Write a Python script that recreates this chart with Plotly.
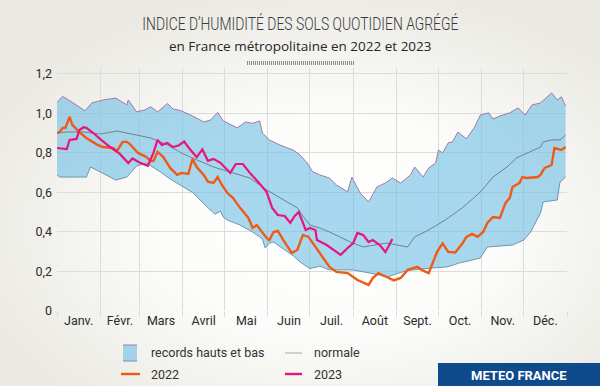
import base64
import plotly.graph_objects as go

# ---------------- data (day of year, 0 = 1 Jan) ----------------
upper_days = [0, 4, 9, 20, 25, 33, 42, 50, 51, 57, 63, 67, 72, 79, 83, 89, 97, 105, 110, 115, 119, 124, 129, 135, 140,
              145, 147, 152, 158, 165, 169, 174, 179, 183, 188, 195, 200, 208, 211, 217, 223, 229, 235, 240, 246, 253,
              256, 262, 266, 271, 273, 276, 280, 283, 287, 293, 299, 303, 309, 312, 317, 324, 330, 335, 340, 346, 351,
              354, 358, 361, 364]
upper_vals = [1.055, 1.086, 1.065, 1.013, 1.053, 1.068, 1.078, 1.043, 1.068, 1.008, 1.018, 1.034, 1.008, 1.050, 1.023,
              1.013, 0.987, 0.957, 0.967, 1.005, 0.962, 0.945, 0.927, 0.957, 0.950, 0.962, 0.901, 0.866, 0.845, 0.825,
              0.815, 0.790, 0.749, 0.705, 0.689, 0.673, 0.638, 0.603, 0.678, 0.597, 0.552, 0.628, 0.648, 0.673, 0.648,
              0.689, 0.729, 0.678, 0.724, 0.749, 0.815, 0.800, 0.851, 0.856, 0.906, 0.871, 0.932, 0.992, 1.003, 0.972,
              0.987, 1.003, 1.028, 0.992, 1.043, 1.053, 1.084, 1.104, 1.068, 1.084, 1.038]

lower_days = [0, 2, 21, 24, 31, 42, 50, 57, 64, 74, 81, 90, 97, 107, 113, 117, 119, 122, 131, 140, 147, 149, 152, 155,
              162, 169, 174, 181, 186, 188, 195, 212, 229, 236, 246, 251, 269, 279, 288, 303, 308, 326, 334, 339, 346,
              348, 358, 360, 364]
lower_vals = [0.689, 0.678, 0.678, 0.729, 0.704, 0.663, 0.678, 0.734, 0.749, 0.704, 0.668, 0.630, 0.600, 0.530, 0.490,
              0.505, 0.475, 0.460, 0.435, 0.400, 0.365, 0.319, 0.344, 0.349, 0.315, 0.280, 0.248, 0.215, 0.223, 0.228,
              0.208, 0.208, 0.185, 0.172, 0.195, 0.205, 0.218, 0.223, 0.243, 0.268, 0.324, 0.334, 0.359, 0.400, 0.496,
              0.552, 0.562, 0.653, 0.678]

normal_days = [0, 7, 19, 31, 43, 54, 67, 79, 89, 100, 112, 126, 138, 150, 162, 172, 176, 181, 188, 195, 210, 219, 236,
               246, 251, 256, 266, 278, 290, 299, 304, 312, 322, 329, 339, 346, 348, 354, 360, 364]
normal_vals = [0.901, 0.906, 0.906, 0.896, 0.911, 0.896, 0.876, 0.841, 0.800, 0.765, 0.729, 0.699, 0.673, 0.613, 0.562,
               0.522, 0.480, 0.435, 0.420, 0.400, 0.349, 0.324, 0.344, 0.329, 0.324, 0.375, 0.410, 0.461, 0.522, 0.577,
               0.610, 0.678, 0.729, 0.775, 0.805, 0.830, 0.856, 0.866, 0.866, 0.891]

y2022_days = [0, 2, 4, 6, 9, 11, 16, 21, 29, 33, 40, 43, 47, 50, 52, 54, 58, 64, 67, 69, 72, 76, 81, 86, 89, 94, 97,
              100, 105, 108, 112, 115, 118, 122, 126, 131, 137, 140, 143, 150, 152, 155, 158, 162, 168, 172, 176, 180,
              185, 186, 195, 200, 208, 215, 223, 226, 230, 236, 241, 246, 251, 258, 261, 266, 272, 276, 280, 285, 290,
              293, 297, 301, 305, 308, 312, 317, 321, 324, 326, 331, 333, 336, 344, 346, 349, 354, 356, 361, 364]
y2022_vals = [0.901, 0.906, 0.927, 0.927, 0.982, 0.942, 0.906, 0.876, 0.841, 0.830, 0.825, 0.810, 0.856, 0.856, 0.846,
              0.830, 0.800, 0.780, 0.759, 0.759, 0.805, 0.780, 0.724, 0.689, 0.699, 0.694, 0.770, 0.729, 0.689, 0.655,
              0.648, 0.678, 0.638, 0.597, 0.572, 0.522, 0.471, 0.420, 0.435, 0.370, 0.359, 0.400, 0.405, 0.359, 0.294,
              0.309, 0.385, 0.375, 0.324, 0.309, 0.223, 0.198, 0.192, 0.157, 0.132, 0.167, 0.192, 0.172, 0.155, 0.167,
              0.208, 0.223, 0.208, 0.192, 0.299, 0.342, 0.299, 0.296, 0.340, 0.375, 0.390, 0.375, 0.400, 0.446, 0.476,
              0.471, 0.547, 0.572, 0.628, 0.648, 0.678, 0.673, 0.678, 0.689, 0.724, 0.739, 0.825, 0.815, 0.830]

y2023_days = [0, 4, 7, 9, 14, 16, 19, 21, 26, 31, 38, 45, 51, 54, 59, 65, 69, 72, 75, 79, 83, 87, 91, 95, 100, 104,
              108, 112, 117, 124, 128, 133, 138, 144, 150, 154, 158, 163, 167, 170, 173, 178, 181, 185, 186, 193, 203,
              208, 212, 215, 219, 223, 226, 231, 235, 237, 240]
y2023_vals = [0.825, 0.820, 0.820, 0.866, 0.871, 0.916, 0.930, 0.927, 0.901, 0.870, 0.830, 0.795, 0.749, 0.772, 0.752,
              0.735, 0.800, 0.866, 0.841, 0.851, 0.830, 0.838, 0.858, 0.820, 0.778, 0.818, 0.760, 0.770, 0.750, 0.699,
              0.744, 0.744, 0.699, 0.653, 0.603, 0.522, 0.486, 0.481, 0.446, 0.480, 0.501, 0.410, 0.420, 0.410, 0.359,
              0.334, 0.284, 0.319, 0.344, 0.395, 0.385, 0.349, 0.359, 0.334, 0.299, 0.324, 0.365]

month_starts = [0, 31, 59, 90, 120, 151, 181, 212, 243, 273, 304, 334, 365]
month_labels = ["Janv.", "Févr.", "Mars", "Avril", "Mai", "Juin", "Juil.", "Août", "Sept.", "Oct.", "Nov.", "Déc."]
y_ticks = [0, 0.2, 0.4, 0.6, 0.8, 1.0, 1.2]
y_ticktext = ["0", "0,2", "0,4", "0,6", "0,8", "1,0", "1,2"]

TITLE = "INDICE D’HUMIDITÉ DES SOLS QUOTIDIEN AGRÉGÉ"

# ---------------- layout helpers (pixel -> paper) ----------------
W, H = 600, 386
L, R, T, B = 57, 33, 68, 75
PW, PH = W - L - R, H - T - B


def px(x):
    return (x - L) / PW


def py(y):
    return (H - B - y) / PH


BAND = "rgba(110,190,228,0.6)"
ORANGE = "#f05a14"
PINK = "#e8157d"
NORMAL = "#6f8388"
GRID = "#dcdcda"
FONT = "Roboto, 'Open Sans', sans-serif"

fig = go.Figure()
fig.add_trace(go.Scatter(x=lower_days, y=lower_vals, mode="lines",
                         line=dict(color="#6c98ad", width=1), hoverinfo="skip", showlegend=False))
fig.add_trace(go.Scatter(x=upper_days, y=upper_vals, mode="lines", fill="tonexty", fillcolor=BAND,
                         line=dict(color="#a07aa6", width=1), name="records hauts et bas", showlegend=False))
fig.add_trace(go.Scatter(x=normal_days, y=normal_vals, mode="lines",
                         line=dict(color=NORMAL, width=1), name="normale", showlegend=False))
fig.add_trace(go.Scatter(x=y2022_days, y=y2022_vals, mode="lines",
                         line=dict(color=ORANGE, width=2.4), name="2022", showlegend=False))
fig.add_trace(go.Scatter(x=y2023_days, y=y2023_vals, mode="lines",
                         line=dict(color=PINK, width=2.2), name="2023", showlegend=False))

mid_months = [(month_starts[i] + month_starts[i + 1]) / 2 for i in range(12)]

svg = ("<svg xmlns='http://www.w3.org/2000/svg' width='600' height='386'>"
       "<defs><radialGradient id='g' cx='55%' cy='58%' r='62%'>"
       "<stop offset='0' stop-color='#ffffff'/><stop offset='0.45' stop-color='#fcfcfa'/>"
       "<stop offset='1' stop-color='#eae9e3'/></radialGradient></defs>"
       "<rect width='600' height='386' fill='url(#g)'/></svg>")
svg_uri = "data:image/svg+xml;base64," + base64.b64encode(svg.encode()).decode()

shapes = [
    # decorative hatched bar under the subtitle
    dict(type="line", xref="paper", yref="paper", x0=px(247), x1=px(354), y0=py(63), y1=py(63),
         line=dict(color="#8a8a88", width=4, dash="1px,1px")),
    # legend symbols
    dict(type="rect", xref="paper", yref="paper", x0=px(123), x1=px(137), y0=py(361), y1=py(345),
         fillcolor=BAND, line=dict(width=0)),
    dict(type="line", xref="paper", yref="paper", x0=px(123), x1=px(137), y0=py(345), y1=py(345),
         line=dict(color="#a07aa6", width=1)),
    dict(type="line", xref="paper", yref="paper", x0=px(123), x1=px(137), y0=py(361), y1=py(361),
         line=dict(color="#6c98ad", width=1)),
    dict(type="line", xref="paper", yref="paper", x0=px(285), x1=px(302), y0=py(353), y1=py(353),
         line=dict(color="#b4b4b4", width=1.2)),
    dict(type="line", xref="paper", yref="paper", x0=px(121), x1=px(140), y0=py(374), y1=py(374),
         line=dict(color=ORANGE, width=2.4)),
    dict(type="line", xref="paper", yref="paper", x0=px(285), x1=px(302), y0=py(374), y1=py(374),
         line=dict(color=PINK, width=2.4)),
    # METEO FRANCE badge
    dict(type="rect", xref="paper", yref="paper", x0=px(438), x1=px(601), y0=py(387), y1=py(363),
         fillcolor="#0f4a8c", line=dict(width=0)),
]

annotations = [
    dict(text=TITLE, x=px(300), y=py(23), xref="paper", yref="paper",
         showarrow=False, xanchor="center", yanchor="middle",
         font=dict(family="Roboto, sans-serif", size=19, weight=300, color="#3a3a3a")),
    dict(text="en France métropolitaine en 2022 et 2023", x=px(300), y=py(46), xref="paper", yref="paper",
         showarrow=False, xanchor="center", yanchor="middle",
         font=dict(family="'Open Sans', sans-serif", size=13.5, color="#262626")),
    dict(text="records hauts et bas", x=px(149), y=py(353), xref="paper", yref="paper", showarrow=False,
         xanchor="left", yanchor="middle", font=dict(family=FONT, size=12.5, color="#333333")),
    dict(text="normale", x=px(312), y=py(353), xref="paper", yref="paper", showarrow=False,
         xanchor="left", yanchor="middle", font=dict(family=FONT, size=12.5, color="#333333")),
    dict(text="2022", x=px(149), y=py(374), xref="paper", yref="paper", showarrow=False,
         xanchor="left", yanchor="middle", font=dict(family=FONT, size=12.5, color="#333333")),
    dict(text="2023", x=px(312), y=py(374), xref="paper", yref="paper", showarrow=False,
         xanchor="left", yanchor="middle", font=dict(family=FONT, size=12.5, color="#333333")),
    dict(text="<b>METEO FRANCE</b>", x=px(519), y=py(375), xref="paper", yref="paper", showarrow=False,
         xanchor="center", yanchor="middle", font=dict(family=FONT, size=13, color="#ffffff")),
]

fig.update_layout(
    width=W, height=H,
    margin=dict(l=L, r=R, t=T, b=B),
    paper_bgcolor="#f6f5f1",
    plot_bgcolor="rgba(0,0,0,0)",
    showlegend=False,
    shapes=shapes,
    annotations=annotations,
    images=[dict(source=svg_uri, xref="paper", yref="paper", x=px(0), y=py(0), sizex=W / PW, sizey=H / PH,
                 xanchor="left", yanchor="top", sizing="stretch", layer="below")],
    font=dict(family=FONT, color="#2a2a2a"),
    xaxis=dict(range=[0, 365], tickmode="array", tickvals=mid_months, ticktext=month_labels,
               showgrid=False, zeroline=False, showline=False, ticks="",
               tickfont=dict(family=FONT, size=12.5, color="#2a2a2a"),
               minor=dict(tickmode="array", tickvals=month_starts, showgrid=True, gridcolor=GRID, gridwidth=1,
                          ticks="outside", ticklen=5, tickcolor=GRID, tickwidth=1),
               fixedrange=True),
    yaxis=dict(range=[0, 1.23], tickmode="array", tickvals=y_ticks, ticktext=y_ticktext,
               showgrid=True, gridcolor=GRID, gridwidth=1, zeroline=False, showline=False, ticks="",
               ticklabelstandoff=4, tickfont=dict(family=FONT, size=12.5, color="#2a2a2a"), fixedrange=True),
)

post = """
document.body.style.margin = '0';
document.body.style.padding = '0';
document.querySelectorAll('text.annotation-text').forEach(function (t) {
  if (t.textContent.indexOf('INDICE') === 0) {
    t.setAttribute('textLength', '316');
    t.setAttribute('lengthAdjust', 'spacingAndGlyphs');
  }
});
"""

fig.write_html("out.html", post_script=post, config={"displayModeBar": False})
